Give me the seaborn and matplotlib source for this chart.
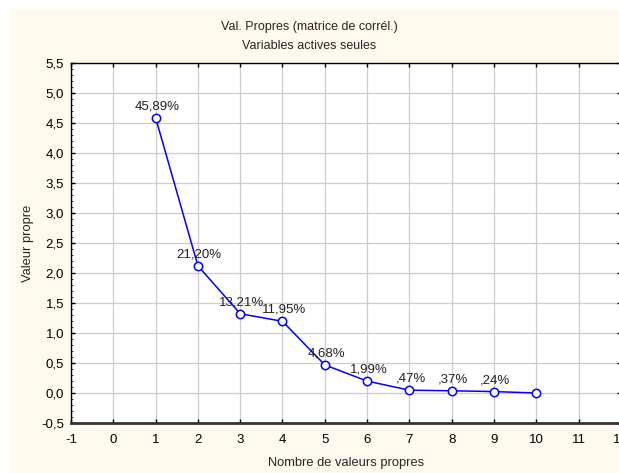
import numpy as np
import pandas as pd
import matplotlib.pyplot as plt
import matplotlib.patches as mpatches
from matplotlib.ticker import MultipleLocator, FuncFormatter
import seaborn as sns

# eigenvalues
rank = [1, 2, 3, 4, 5, 6, 7, 8, 9, 10]
eigen = [4.589, 2.120, 1.321, 1.195, 0.468, 0.199, 0.047, 0.037, 0.024, 0.000]
pct_labels = ['45,89%', '21,20%', '13,21%', '11,95%', '4,68%', '1,99%', ',47%', ',37%', ',24%', '']

df = pd.DataFrame({'rank': rank, 'eigen': eigen, 'lab': pct_labels})

sns.set_style('white')
plt.rcParams['font.family'] = ['Liberation Sans', 'DejaVu Sans']
plt.rcParams['axes.unicode_minus'] = False

fig = plt.figure(figsize=(6.19, 4.73), dpi=100)
fig.patch.set_facecolor('white')
# beige panel behind the plot
bg = mpatches.Rectangle((10 / 619, 0), 1, 1 - 9 / 473, transform=fig.transFigure,
                        facecolor='#FFF9EE', edgecolor='none', zorder=-10)
fig.patches.append(bg)

ax = fig.add_axes([71 / 619, 1 - 423 / 473, 1 - 71 / 619 + 0.003, 360 / 473])
ax.set_facecolor('white')

sns.lineplot(data=df, x='rank', y='eigen', ax=ax, color='#0000FF', linewidth=1.1,
             marker='o', markersize=6, markerfacecolor='white',
             markeredgecolor='#0000FF', markeredgewidth=1.1, zorder=5)

for _, r in df.iterrows():
    ax.annotate(r['lab'], (r['rank'], r['eigen']), xytext=(1, 4),
                textcoords='offset points', ha='center', va='bottom',
                fontsize=9.5, color='#222222', zorder=6)

ax.set_xlim(-1, 12)
ax.set_ylim(-0.5, 5.5)
ax.xaxis.set_major_locator(MultipleLocator(1))
ax.yaxis.set_major_locator(MultipleLocator(0.5))
ax.yaxis.set_minor_locator(MultipleLocator(0.1))
ax.yaxis.set_major_formatter(FuncFormatter(lambda v, p: f'{v:.1f}'.replace('.', ',')))
ax.grid(True, which='major', color='#CCCCCC', linewidth=0.9)
ax.set_axisbelow(True)
ax.tick_params(axis='both', which='major', direction='in', length=3, width=1,
               labelsize=9.5, colors='black', top=True, bottom=True, left=True, right=True)
ax.tick_params(axis='y', which='minor', direction='in', length=1.5, left=True, right=True)
ax.tick_params(axis='x', pad=8)
ax.tick_params(axis='y', pad=5)
for s in ['top', 'left', 'right']:
    ax.spines[s].set_color('black')
    ax.spines[s].set_linewidth(1)
ax.spines['bottom'].set_color('#333333')
ax.spines['bottom'].set_linewidth(2)

ax.set_xlabel('Nombre de valeurs propres', fontsize=9.3, labelpad=8)
ax.set_ylabel('Valeur propre', fontsize=9.3, labelpad=5)

fig.text(0.5, 1 - 27 / 473, 'Val. Propres (matrice de corrél.)', ha='center', va='center', fontsize=9)
fig.text(0.5, 1 - 46 / 473, 'Variables actives seules', ha='center', va='center', fontsize=9)

fig.savefig('out.png', dpi=100)
